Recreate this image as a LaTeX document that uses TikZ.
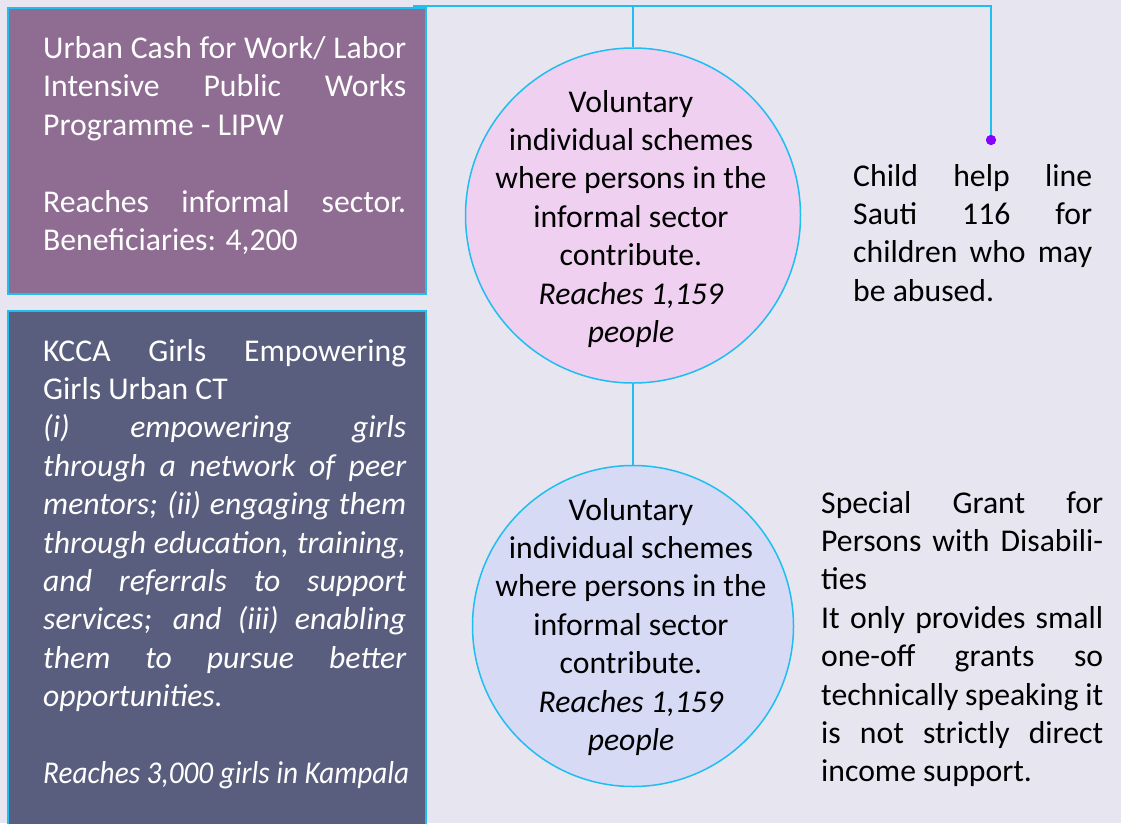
\documentclass[tikz,border=0pt]{standalone}
\usepackage{fontspec}
\setmainfont{Carlito}
\definecolor{bgc}{RGB}{231,229,240}
\definecolor{boxA}{RGB}{143,109,147}
\definecolor{boxB}{RGB}{90,94,126}
\definecolor{circA}{RGB}{240,208,240}
\definecolor{circB}{RGB}{214,218,245}
\definecolor{cyanl}{RGB}{30,190,240}
\definecolor{dotc}{RGB}{136,0,255}
\newcommand\jline[1]{\makebox[\linewidth][s]{#1}\\}
\newcommand\pline[1]{\mbox{#1}\\}
\newcommand\txtset{\fontsize{31.7}{38.4}\selectfont}
\begin{document}
\begin{tikzpicture}[x=1pt,y=-1pt,
  conn/.style={draw=cyanl,line width=1.5pt},
  panel/.style={draw=cyanl,line width=1.5pt,rectangle,inner sep=0pt,anchor=north west},
  bubble/.style={draw=cyanl,line width=1.5pt,circle,inner sep=0pt},
  txt/.style={inner sep=0pt,anchor=base west},
  ctxt/.style={inner sep=0pt,anchor=base},
  dotstyle/.style={circle,fill=dotc,inner sep=0pt,minimum size=10pt}]
\useasboundingbox (0,0) rectangle (1121,823);
\clip (0,0) rectangle (1121,823);
\fill[bgc] (0,0) rectangle (1121,823);
% connectors
\coordinate (tl) at (413,6);
\coordinate (tr) at (991,6);
\node[dotstyle] (dot) at (991,140) {};
\draw[conn] (tl) -- (tr) -- (dot.center);
\node[dotstyle] at (dot) {};
% panels
\node[panel,fill=boxA,minimum width=418pt,minimum height=286pt] (b1) at (7,7) {};
\node[panel,fill=boxB,minimum width=418pt,minimum height=540pt] (b2) at (7,310) {};
% circles
\node[bubble,fill=circA,minimum size=335pt] (c1) at (633,215.5) {};
\node[bubble,fill=circB,minimum size=321pt] (c2) at (633,626) {};
\draw[conn] (c1.north) -- (c1.north |- tl);
\draw[conn] (c1.south) -- (c2.north);
% texts
\node[txt,text=white] (t1) at (43,58.5) {\parbox[t]{363pt}{\txtset
\jline{Urban Cash for Work/ Labor}
\jline{Intensive Public Works}
\pline{Programme - LIPW}
\pline{}
\jline{Reaches informal sector.}
\pline{Beneficiaries: 4,200}}};
\node[txt,text=white] (t2) at (43,361) {\parbox[t]{363pt}{\txtset
\jline{KCCA Girls Empowering}
\pline{Girls Urban CT}
\itshape
\jline{(i) empowering girls}
\jline{through a network of peer}
\jline{mentors; (ii) engaging them}
\jline{through education, training,}
\jline{and referrals to support}
\jline{services; and (iii) enabling}
\jline{them to pursue better}
\pline{opportunities.}
\pline{}
\pline{\resizebox{366pt}{\height}{Reaches 3,000 girls in Kampala}}}};
\node[txt] (t3) at (853,186) {\parbox[t]{239pt}{\txtset
\jline{Child help line}
\jline{Sauti 116 for}
\jline{children who may}
\pline{be abused.}}};
\node[txt] (t4) at (821,513) {\parbox[t]{282pt}{\txtset
\jline{Special Grant for}
\jline{Persons with Disabili-}
\pline{ties}
\jline{It only provides small}
\jline{one-off grants so}
\jline{technically speaking it}
\jline{is not strictly direct}
\pline{income support.}}};
\node[ctxt] (t5) at (631,112) {\parbox[t]{320pt}{\centering\txtset
Voluntary\\
individual schemes\\
where persons in the\\
informal sector\\
contribute.\\
\textit{Reaches 1,159}\\
\textit{people}}};
\node[ctxt] (t6) at (631,520) {\parbox[t]{320pt}{\centering\txtset
Voluntary\\
individual schemes\\
where persons in the\\
informal sector\\
contribute.\\
\textit{Reaches 1,159}\\
\textit{people}}};
\end{tikzpicture}
\end{document}
